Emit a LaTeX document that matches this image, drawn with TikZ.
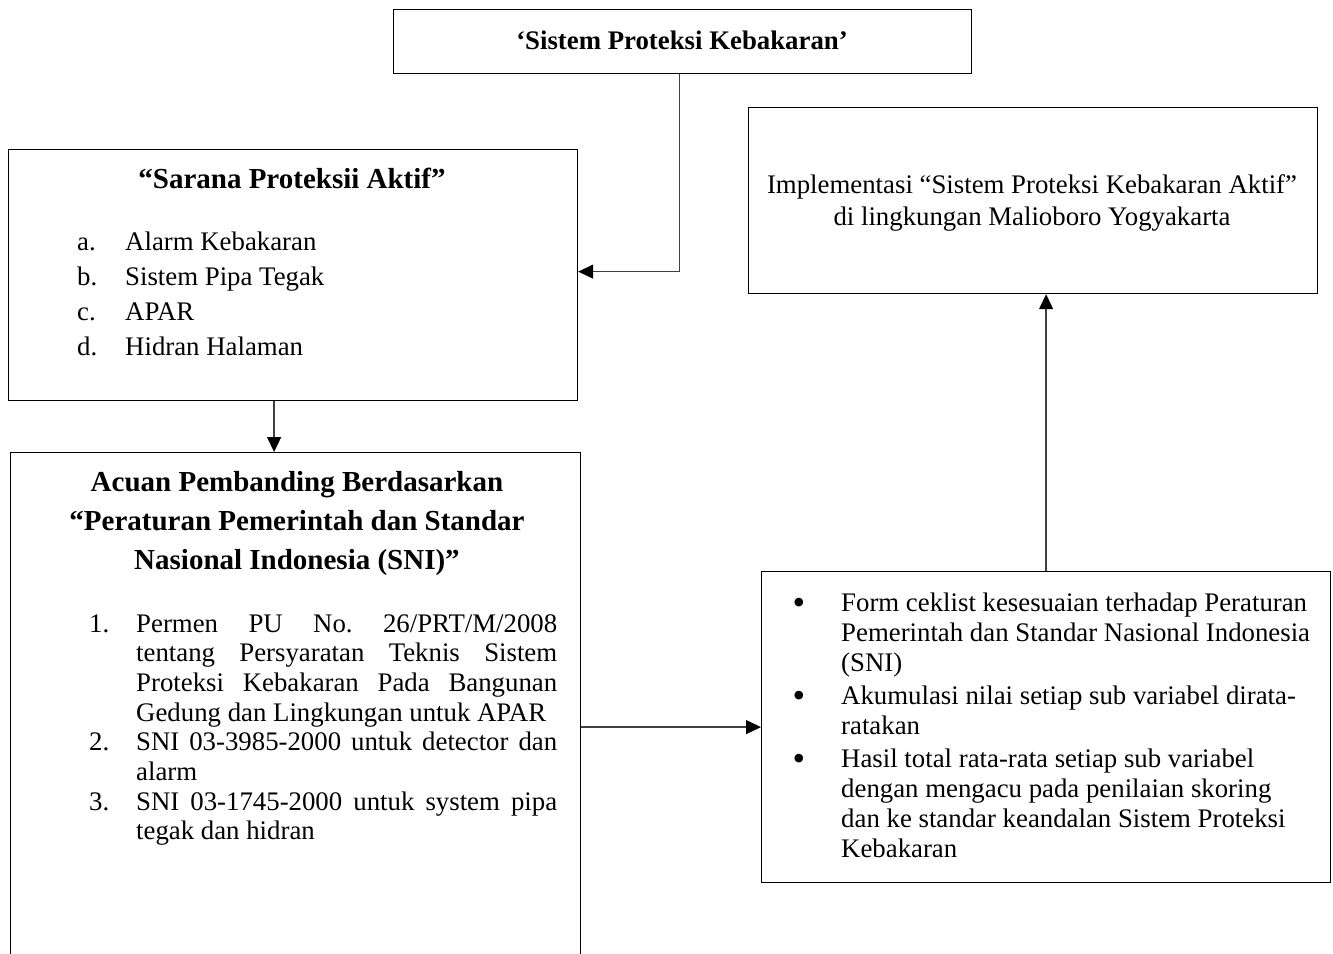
\documentclass[tikz,border=0pt]{standalone}
\usepackage{fontspec}
\setmainfont{Liberation Serif}
\usetikzlibrary{arrows.meta}
\begin{document}
\frenchspacing
\begin{tikzpicture}[x=1pt,y=-1pt,
  box/.style={draw=black,line width=1.2pt,inner sep=0pt,anchor=north west},
  conn/.style={draw=black!75,line width=1.3pt,-{Triangle[length=15pt,width=14pt,color=black]}},
  txt/.style={inner sep=0pt,font=\fontsize{26.8}{30}\selectfont},
  bul/.style={inner sep=0pt,font=\fontsize{36}{30}\selectfont},
  bld/.style={inner sep=0pt,font=\fontsize{26.8}{30}\selectfont\bfseries},
  ttl/.style={inner sep=0pt,font=\fontsize{29}{39}\selectfont\bfseries}]
\clip (0,0) rectangle (1333,953);
\fill[white] (0,0) rectangle (1333,953);
% boxes
\node[box,minimum width=578pt,minimum height=64pt] (top) at (393,9) {};
\node[box,minimum width=569pt,minimum height=251pt] (sar) at (8,149) {};
\node[box,minimum width=570pt,minimum height=510pt] (acu) at (10,452) {};
\node[box,minimum width=569pt,minimum height=186pt] (impl) at (748,107) {};
\node[box,minimum width=569pt,minimum height=311pt] (form) at (761,571) {};
% connectors
\draw[conn] ([xshift=-3pt]top.south) |- ([yshift=3.5pt]sar.east);
\draw[conn] ([xshift=-19pt]sar.south) -- ([xshift=-19pt]sar.south |- acu.north);
\draw[conn] (acu.east |- form.west) -- (form.west);
\draw[conn] (form.north) -- (form.north |- impl.south);
% top title
\node[bld,anchor=base] (toptxt) at (682,49) {‘Sistem Proteksi Kebakaran’};
% box 2
\node[ttl,anchor=base] (sartxt) at (292,188) {“Sarana Proteksii Aktif”};
\foreach \lab/\item [count=\i] in {a./Alarm Kebakaran, b./Sistem Pipa Tegak, c./APAR, d./Hidran Halaman}{
  \node[txt,anchor=base west] (sl\i) at (77,{214.7+35.3*\i}) {\lab};
  \node[txt,anchor=base west] (si\i) at (125,{214.7+35.3*\i}) {\item};
}
% box 3 title
\node[ttl,anchor=base] (at1) at (297,491) {Acuan Pembanding Berdasarkan};
\node[ttl,anchor=base] (at2) at (297,530) {“Peraturan Pemerintah dan Standar};
\node[ttl,anchor=base] (at3) at (297,569) {Nasional Indonesia (SNI)”};
% box 3 list
\node[txt,anchor=base west] (an1) at (89,632) {1.};
\node[txt,anchor=base west] (al1) at (136,632) {\makebox[421pt][s]{Permen PU No. 26/PRT/M/2008}};
\node[txt,anchor=base west] (al2) at (136,661.7) {\makebox[421pt][s]{tentang Persyaratan Teknis Sistem}};
\node[txt,anchor=base west] (al3) at (136,691.4) {\makebox[421pt][s]{Proteksi Kebakaran Pada Bangunan}};
\node[txt,anchor=base west] (al4) at (136,721.1) {Gedung dan Lingkungan untuk APAR};
\node[txt,anchor=base west] (an2) at (89,750.8) {2.};
\node[txt,anchor=base west] (al5) at (136,750.8) {\makebox[421pt][s]{SNI 03-3985-2000 untuk detector dan}};
\node[txt,anchor=base west] (al6) at (136,780.5) {alarm};
\node[txt,anchor=base west] (an3) at (89,810.2) {3.};
\node[txt,anchor=base west] (al7) at (136,810.2) {\makebox[421pt][s]{SNI 03-1745-2000 untuk system pipa}};
\node[txt,anchor=base west] (al8) at (136,839.9) {tegak dan hidran};
% box 4
\node[bul,anchor=base] (fb1) at (799,614) {\textbullet};
\node[txt,anchor=base west] (fl1) at (841,611) {Form ceklist kesesuaian terhadap Peraturan};
\node[txt,anchor=base west] (fl2) at (841,641) {Pemerintah dan Standar Nasional Indonesia};
\node[txt,anchor=base west] (fl3) at (841,671) {(SNI)};
\node[bul,anchor=base] (fb2) at (799,707) {\textbullet};
\node[txt,anchor=base west] (fl4) at (841,704) {Akumulasi nilai setiap sub variabel dirata-};
\node[txt,anchor=base west] (fl5) at (841,734) {ratakan};
\node[bul,anchor=base] (fb3) at (799,770) {\textbullet};
\node[txt,anchor=base west] (fl6) at (841,767) {Hasil total rata-rata setiap sub variabel};
\node[txt,anchor=base west] (fl7) at (841,797) {dengan mengacu pada penilaian skoring};
\node[txt,anchor=base west] (fl8) at (841,827) {dan ke standar keandalan Sistem Proteksi};
\node[txt,anchor=base west] (fl9) at (841,857) {Kebakaran};
% box 5
\node[txt,anchor=base] (il1) at (1032,193) {Implementasi “Sistem Proteksi Kebakaran Aktif”};
\node[txt,anchor=base] (il2) at (1032,225) {di lingkungan Malioboro Yogyakarta};
\end{tikzpicture}
\end{document}
